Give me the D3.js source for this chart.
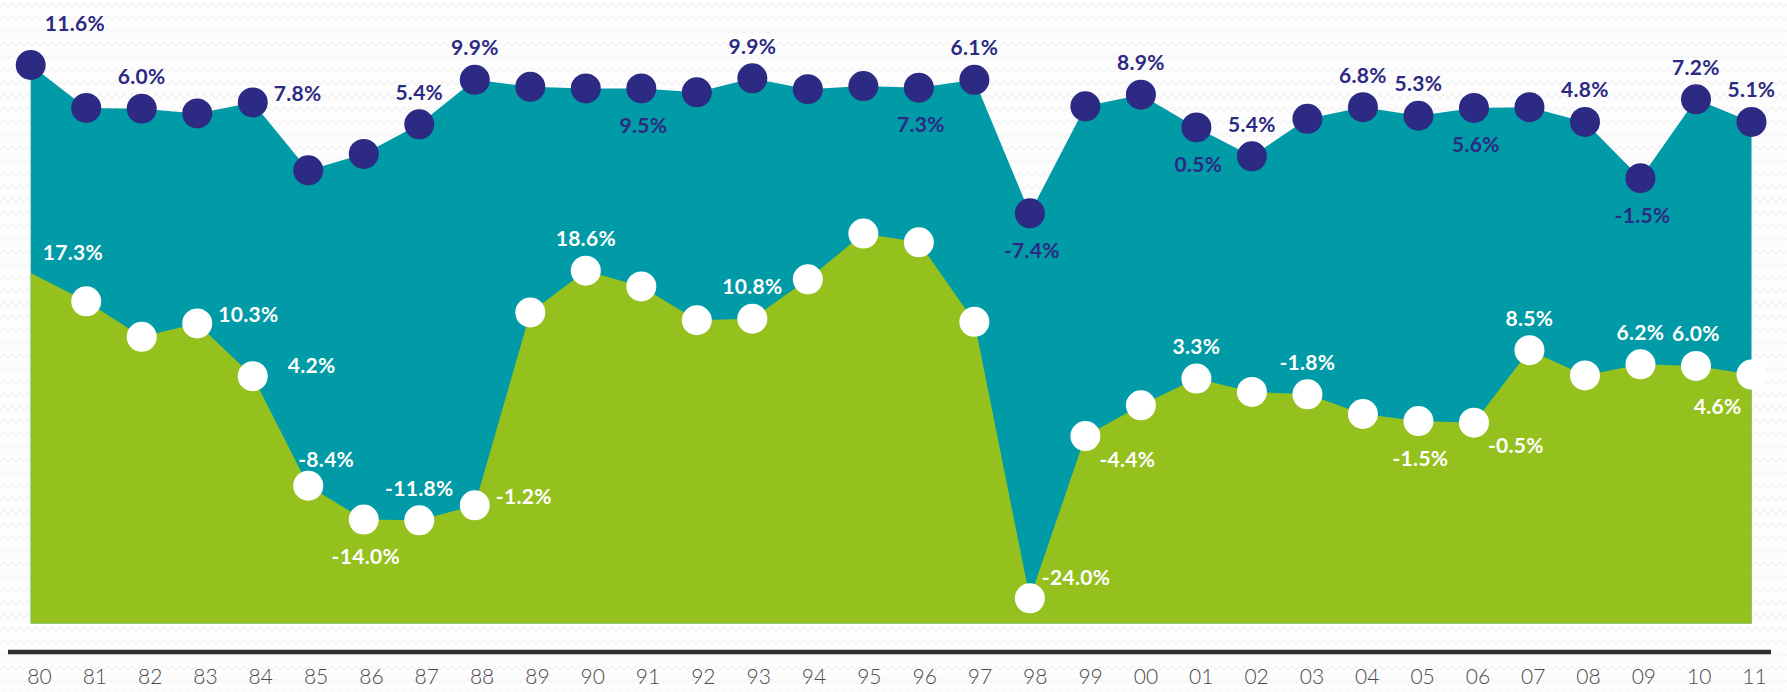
<!DOCTYPE html>
<html>
<head>
<meta charset="utf-8">
<script src="https://cdn.jsdelivr.net/npm/d3@7/dist/d3.min.js"></script>
<style>
  html, body { margin: 0; padding: 0; background: #fdfdfd; }
  svg { display: block; }
</style>
</head>
<body>
<svg id="chart" width="1787" height="692"></svg>
<script>
// ---------- DATA ----------
const years = ["80","81","82","83","84","85","86","87","88","89","90","91","92","93","94","95",
               "96","97","98","99","00","01","02","03","04","05","06","07","08","09","10","11"];

// upper series (navy dots over teal area), plotted values in %
const upperValues = [11.6, 6.1, 6.0, 5.4, 6.8, -1.9, 0.2, 4.0, 9.7, 8.8, 8.6, 8.6, 8.1, 9.9, 8.5, 8.9,
                     8.7, 9.7, -7.4, 6.3, 7.8, 3.6, -0.1, 4.7, 6.2, 5.1, 6.1, 6.2, 4.3, -2.9, 7.2, 4.3];
const upperLabels = ["11.6%", null, "6.0%", null, "7.8%", null, null, "5.4%", "9.9%", null, null, "9.5%", null, "9.9%", null, null,
                     "7.3%", "6.1%", "-7.4%", null, "8.9%", "0.5%", "5.4%", null, "6.8%", "5.3%", "5.6%", null, "4.8%", "-1.5%", "7.2%", "5.1%"];

// lower series (white dots over green area), plotted values in %
const lowerValues = [17.3, 13.7, 9.2, 10.9, 4.2, -9.7, -14.0, -14.1, -12.2, 12.3, 17.6, 15.6, 11.3, 11.5, 16.5, 22.3,
                     21.2, 11.1, -24.0, -3.4, 0.5, 3.9, 2.2, 1.9, -0.6, -1.5, -1.7, 7.5, 4.3, 5.7, 5.5, 4.4];
const lowerLabels = ["17.3%", null, null, "10.3%", "4.2%", "-8.4%", "-14.0%", "-11.8%", "-1.2%", null, "18.6%", null, null, "10.8%", null, null,
                     null, null, "-24.0%", "-4.4%", null, "3.3%", null, "-1.8%", null, "-1.5%", "-0.5%", "8.5%", null, "6.2%", "6.0%", "4.6%"];

// ---------- LABEL PLACEMENT (layout, not data) ----------
const upperPlace = ["nne", null, "n", null, "e", null, null, "n", "n", null, null, "s", null, "n", null, null,
                    "s", "n", "s", null, "n", "s", "n", null, "n", "n", "s", null, "n", "s", "n", "n"];
const lowerPlace = ["ne", null, null, "e", "ee", "nr", "s", "n", "e", null, "n", null, null, "n", null, null,
                    null, null, "ne", "se", null, "n", null, "n", null, "s", "se", "n", null, "n", "n", "sw"];
const placeCfg = {
  n:   {dx: 0,   dy: -33, anchor: "middle"},
  s:   {dx: 2,   dy: 36,  anchor: "middle"},
  e:   {dx: 21,  dy: -10, anchor: "start"},
  ee:  {dx: 35,  dy: -12, anchor: "start"},
  ne:  {dx: 12,  dy: -22, anchor: "start"},
  nne: {dx: 14,  dy: -43, anchor: "start"},
  nr:  {dx: -10, dy: -27, anchor: "start"},
  se:  {dx: 14,  dy: 22,  anchor: "start"},
  sw:  {dx: -10, dy: 31,  anchor: "end"}
};

// ---------- STYLE ----------
const COL_TEAL = "#009ba6";
const COL_GREEN = "#95c11f";
const COL_NAVY = "#2c2a82";
const COL_WHITE = "#ffffff";
const W = 1787, H = 692;
const BASE_Y = 623.5;
const R = 15;

const svg = d3.select("#chart");

// background zigzag texture
const defs = svg.append("defs");
const pat = defs.append("pattern").attr("id", "zig").attr("patternUnits", "userSpaceOnUse")
  .attr("width", 8).attr("height", 13);
pat.append("rect").attr("width", 8).attr("height", 13).attr("fill", "#fdfdfd");
pat.append("path").attr("d", "M0,7 L4,3 L8,7").attr("fill", "none").attr("stroke", "#f2f2f2").attr("stroke-width", 1.2);
svg.append("rect").attr("width", W).attr("height", H).attr("fill", "url(#zig)");

// ---------- SCALES ----------
const x = d3.scalePoint().domain(years).range([30.7, 1751.5]);
const xAxisScale = d3.scalePoint().domain(years).range([39, 1754]);
const yUpper = d3.scaleLinear().domain([-7.4, 11.6]).range([213.3, 65]);
const yLower = d3.scaleLinear().domain([-24, 17.3]).range([598.3, 273]);

const upper = years.map((y, i) => ({year: y, v: upperValues[i], label: upperLabels[i], place: upperPlace[i]}));
const lower = years.map((y, i) => ({year: y, v: lowerValues[i], label: lowerLabels[i], place: lowerPlace[i]}));

// ---------- AREAS ----------
const areaUpper = d3.area().x(d => x(d.year)).y0(BASE_Y).y1(d => yUpper(d.v));
const areaLower = d3.area().x(d => x(d.year)).y0(BASE_Y).y1(d => yLower(d.v));

svg.append("path").datum(upper).attr("d", areaUpper).attr("fill", COL_TEAL);
svg.append("path").datum(lower).attr("d", areaLower).attr("fill", COL_GREEN);

// ---------- AXIS ----------
const axis = d3.axisBottom(xAxisScale).tickSize(0).tickPadding(0);
const gAxis = svg.append("g").attr("transform", `translate(0, ${669})`).call(axis);
gAxis.select(".domain").remove();
gAxis.selectAll("text")
  .attr("dy", "0.71em")
  .attr("fill", "#4a4a4a")
  .style("font-family", "Lato, 'Open Sans', sans-serif")
  .style("font-weight", 300)
  .style("font-size", "21px");
svg.append("line").attr("x1", 8).attr("x2", 1771).attr("y1", 652).attr("y2", 652)
  .attr("stroke", "#2e2e2e").attr("stroke-width", 4.5);

// ---------- DOTS ----------
svg.append("g").selectAll("circle").data(upper).join("circle")
  .attr("cx", d => x(d.year)).attr("cy", d => yUpper(d.v)).attr("r", R).attr("fill", COL_NAVY);

// the first lower point has no marker in the reference
svg.append("g").selectAll("circle").data(lower.filter((d, i) => i > 0)).join("circle")
  .attr("cx", d => x(d.year)).attr("cy", d => yLower(d.v)).attr("r", R).attr("fill", COL_WHITE);

// ---------- LABELS ----------
function drawLabels(data, yScale, color) {
  svg.append("g").selectAll("text").data(data.filter(d => d.label)).join("text")
    .attr("x", d => x(d.year) + placeCfg[d.place].dx)
    .attr("y", d => yScale(d.v) + placeCfg[d.place].dy)
    .attr("text-anchor", d => placeCfg[d.place].anchor)
    .attr("dominant-baseline", "central")
    .attr("fill", color)
    .style("font-family", "Lato, 'Open Sans', sans-serif")
    .style("font-weight", 700)
    .style("font-size", "21px")
    .style("letter-spacing", "0.3px")
    .text(d => d.label);
}
drawLabels(upper, yUpper, COL_NAVY);
drawLabels(lower, yLower, COL_WHITE);
</script>
</body>
</html>
